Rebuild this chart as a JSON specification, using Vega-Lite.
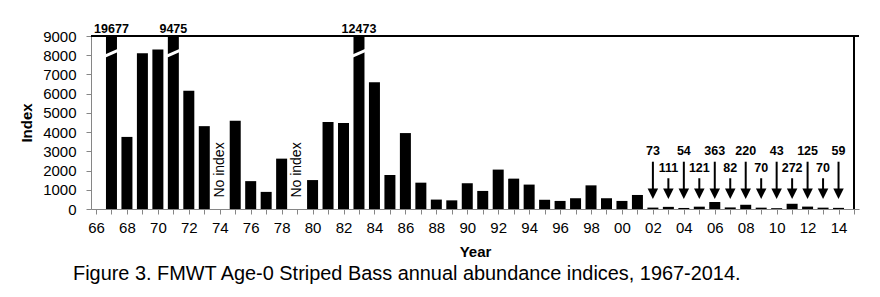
{
  "$schema": "https://vega.github.io/schema/vega-lite/v6.json",
  "autosize": {"type": "none"},
  "width": 768,
  "height": 173,
  "padding": {"left": 91, "top": 36, "right": 21, "bottom": 88},
  "background": "white",
  "title": {
    "text": "Figure 3. FMWT Age-0 Striped Bass annual abundance indices, 1967-2014.",
    "orient": "bottom",
    "anchor": "start",
    "frame": "group",
    "dx": -18,
    "offset": 5,
    "font": "Liberation Sans",
    "fontSize": 19.9,
    "fontWeight": "normal",
    "color": "black"
  },
  "config": {
    "view": {"stroke": null},
    "font": "Liberation Sans",
    "axis": {
      "domainColor": "#868686",
      "tickColor": "#868686",
      "labelColor": "black",
      "titleColor": "black",
      "labelFont": "Liberation Sans",
      "titleFont": "Liberation Sans",
      "labelFontSize": 15,
      "titleFontSize": 15,
      "titleFontWeight": "bold",
      "grid": false,
      "tickSize": 5,
      "labelOverlap": false,
      "labelFlush": false,
      "labelBound": false
    }
  },
  "datasets": {
    "main": [
      {"year": 1967, "value": 19677},
      {"year": 1968, "value": 3750},
      {"year": 1969, "value": 8100},
      {"year": 1970, "value": 8300},
      {"year": 1971, "value": 9475},
      {"year": 1972, "value": 6150},
      {"year": 1973, "value": 4310},
      {"year": 1975, "value": 4590},
      {"year": 1976, "value": 1450},
      {"year": 1977, "value": 890},
      {"year": 1978, "value": 2620},
      {"year": 1980, "value": 1505},
      {"year": 1981, "value": 4530},
      {"year": 1982, "value": 4470},
      {"year": 1983, "value": 12473},
      {"year": 1984, "value": 6600},
      {"year": 1985, "value": 1770},
      {"year": 1986, "value": 3950},
      {"year": 1987, "value": 1370},
      {"year": 1988, "value": 490},
      {"year": 1989, "value": 450},
      {"year": 1990, "value": 1340},
      {"year": 1991, "value": 940},
      {"year": 1992, "value": 2050},
      {"year": 1993, "value": 1580},
      {"year": 1994, "value": 1270},
      {"year": 1995, "value": 480},
      {"year": 1996, "value": 420},
      {"year": 1997, "value": 560},
      {"year": 1998, "value": 1230},
      {"year": 1999, "value": 560},
      {"year": 2000, "value": 420},
      {"year": 2001, "value": 730},
      {"year": 2002, "value": 73},
      {"year": 2003, "value": 111},
      {"year": 2004, "value": 54},
      {"year": 2005, "value": 121},
      {"year": 2006, "value": 363},
      {"year": 2007, "value": 82},
      {"year": 2008, "value": 220},
      {"year": 2009, "value": 70},
      {"year": 2010, "value": 43},
      {"year": 2011, "value": 272},
      {"year": 2012, "value": 125},
      {"year": 2013, "value": 70},
      {"year": 2014, "value": 59}
    ],
    "noindex": [
      {"year": 1974, "note": "No index"},
      {"year": 1979, "note": "No index"}
    ],
    "frame": [{"id": 1}]
  },
  "data": {"name": "main"},
  "layer": [
    {
      "mark": {"type": "bar", "size": 11, "color": "black", "clip": true},
      "encoding": {
        "x": {
          "field": "year",
          "type": "quantitative",
          "scale": {"domain": [1966, 2015], "nice": false, "zero": false},
          "axis": {
            "title": "Year",
            "values": [1966,1967,1968,1969,1970,1971,1972,1973,1974,1975,1976,1977,1978,1979,1980,1981,1982,1983,1984,1985,1986,1987,1988,1989,1990,1991,1992,1993,1994,1995,1996,1997,1998,1999,2000,2001,2002,2003,2004,2005,2006,2007,2008,2009,2010,2011,2012,2013,2014,2015],
            "labelExpr": "(datum.value % 2 == 0 && datum.value < 2015) ? substring(toString(datum.value), 2, 4) : ''",
            "labelOverlap": false,
            "labelPadding": 6,
            "titlePadding": 9
          }
        },
        "y": {
          "field": "value",
          "type": "quantitative",
          "scale": {"domain": [0, 9000], "nice": false, "zero": true},
          "axis": {
            "title": "Index",
            "values": [0,1000,2000,3000,4000,5000,6000,7000,8000,9000],
            "format": "d",
            "labelPadding": 10,
            "labelOverlap": false,
            "titlePadding": 8
          }
        }
      }
    },
    {
      "transform": [{"filter": "datum.value > 9000"}],
      "mark": {"type": "rule", "color": "white", "strokeWidth": 3, "xOffset": -6.5, "x2Offset": 6.5},
      "encoding": {
        "x": {"field": "year", "type": "quantitative", "axis": {"title": "Year", "values": [1966,1967,1968,1969,1970,1971,1972,1973,1974,1975,1976,1977,1978,1979,1980,1981,1982,1983,1984,1985,1986,1987,1988,1989,1990,1991,1992,1993,1994,1995,1996,1997,1998,1999,2000,2001,2002,2003,2004,2005,2006,2007,2008,2009,2010,2011,2012,2013,2014,2015], "labelExpr": "(datum.value % 2 == 0 && datum.value < 2015) ? substring(toString(datum.value), 2, 4) : ''", "labelOverlap": false, "labelPadding": 6, "titlePadding": 9}},
        "x2": {"field": "year"},
        "y": {"datum": 7950, "axis": {"title": "Index", "values": [0,1000,2000,3000,4000,5000,6000,7000,8000,9000], "format": "d", "labelPadding": 10, "labelOverlap": false, "titlePadding": 8}},
        "y2": {"datum": 8250}
      }
    },
    {
      "transform": [{"filter": "datum.value > 9000"}],
      "mark": {"type": "text", "fontSize": 12.5, "fontWeight": "bold", "baseline": "alphabetic", "dy": -3, "color": "black"},
      "encoding": {
        "x": {"field": "year", "type": "quantitative", "axis": {"title": "Year", "values": [1966,1967,1968,1969,1970,1971,1972,1973,1974,1975,1976,1977,1978,1979,1980,1981,1982,1983,1984,1985,1986,1987,1988,1989,1990,1991,1992,1993,1994,1995,1996,1997,1998,1999,2000,2001,2002,2003,2004,2005,2006,2007,2008,2009,2010,2011,2012,2013,2014,2015], "labelExpr": "(datum.value % 2 == 0 && datum.value < 2015) ? substring(toString(datum.value), 2, 4) : ''", "labelOverlap": false, "labelPadding": 6, "titlePadding": 9}},
        "y": {"datum": 9000, "axis": {"title": "Index", "values": [0,1000,2000,3000,4000,5000,6000,7000,8000,9000], "format": "d", "labelPadding": 10, "labelOverlap": false, "titlePadding": 8}},
        "text": {"field": "value", "type": "quantitative", "format": "d"}
      }
    },
    {
      "data": {"name": "noindex"},
      "mark": {"type": "text", "fontSize": 14, "angle": 270, "align": "center", "baseline": "middle", "color": "black"},
      "encoding": {
        "x": {"field": "year", "type": "quantitative", "axis": {"title": "Year", "values": [1966,1967,1968,1969,1970,1971,1972,1973,1974,1975,1976,1977,1978,1979,1980,1981,1982,1983,1984,1985,1986,1987,1988,1989,1990,1991,1992,1993,1994,1995,1996,1997,1998,1999,2000,2001,2002,2003,2004,2005,2006,2007,2008,2009,2010,2011,2012,2013,2014,2015], "labelExpr": "(datum.value % 2 == 0 && datum.value < 2015) ? substring(toString(datum.value), 2, 4) : ''", "labelOverlap": false, "labelPadding": 6, "titlePadding": 9}},
        "y": {"datum": 2030, "axis": {"title": "Index", "values": [0,1000,2000,3000,4000,5000,6000,7000,8000,9000], "format": "d", "labelPadding": 10, "labelOverlap": false, "titlePadding": 8}},
        "text": {"field": "note"}
      }
    },
    {
      "transform": [{"filter": "datum.year >= 2002 && datum.year % 2 == 0"}],
      "mark": {"type": "rule", "color": "black", "strokeWidth": 2},
      "encoding": {
        "x": {"field": "year", "type": "quantitative", "axis": {"title": "Year", "values": [1966,1967,1968,1969,1970,1971,1972,1973,1974,1975,1976,1977,1978,1979,1980,1981,1982,1983,1984,1985,1986,1987,1988,1989,1990,1991,1992,1993,1994,1995,1996,1997,1998,1999,2000,2001,2002,2003,2004,2005,2006,2007,2008,2009,2010,2011,2012,2013,2014,2015], "labelExpr": "(datum.value % 2 == 0 && datum.value < 2015) ? substring(toString(datum.value), 2, 4) : ''", "labelOverlap": false, "labelPadding": 6, "titlePadding": 9}},
        "y": {"datum": 2460, "axis": {"title": "Index", "values": [0,1000,2000,3000,4000,5000,6000,7000,8000,9000], "format": "d", "labelPadding": 10, "labelOverlap": false, "titlePadding": 8}},
        "y2": {"datum": 1000}
      }
    },
    {
      "transform": [{"filter": "datum.year >= 2002 && datum.year % 2 == 1"}],
      "mark": {"type": "rule", "color": "black", "strokeWidth": 2},
      "encoding": {
        "x": {"field": "year", "type": "quantitative", "axis": {"title": "Year", "values": [1966,1967,1968,1969,1970,1971,1972,1973,1974,1975,1976,1977,1978,1979,1980,1981,1982,1983,1984,1985,1986,1987,1988,1989,1990,1991,1992,1993,1994,1995,1996,1997,1998,1999,2000,2001,2002,2003,2004,2005,2006,2007,2008,2009,2010,2011,2012,2013,2014,2015], "labelExpr": "(datum.value % 2 == 0 && datum.value < 2015) ? substring(toString(datum.value), 2, 4) : ''", "labelOverlap": false, "labelPadding": 6, "titlePadding": 9}},
        "y": {"datum": 1600, "axis": {"title": "Index", "values": [0,1000,2000,3000,4000,5000,6000,7000,8000,9000], "format": "d", "labelPadding": 10, "labelOverlap": false, "titlePadding": 8}},
        "y2": {"datum": 1000}
      }
    },
    {
      "transform": [{"filter": "datum.year >= 2002"}],
      "mark": {"type": "point", "shape": "M-1,-1L1,-1L0,1Z", "filled": true, "color": "black", "size": 110, "opacity": 1},
      "encoding": {
        "x": {"field": "year", "type": "quantitative", "axis": {"title": "Year", "values": [1966,1967,1968,1969,1970,1971,1972,1973,1974,1975,1976,1977,1978,1979,1980,1981,1982,1983,1984,1985,1986,1987,1988,1989,1990,1991,1992,1993,1994,1995,1996,1997,1998,1999,2000,2001,2002,2003,2004,2005,2006,2007,2008,2009,2010,2011,2012,2013,2014,2015], "labelExpr": "(datum.value % 2 == 0 && datum.value < 2015) ? substring(toString(datum.value), 2, 4) : ''", "labelOverlap": false, "labelPadding": 6, "titlePadding": 9}},
        "y": {"datum": 793, "axis": {"title": "Index", "values": [0,1000,2000,3000,4000,5000,6000,7000,8000,9000], "format": "d", "labelPadding": 10, "labelOverlap": false, "titlePadding": 8}}
      }
    },
    {
      "transform": [{"filter": "datum.year >= 2002 && datum.year % 2 == 0"}],
      "mark": {"type": "text", "fontSize": 12.5, "fontWeight": "bold", "baseline": "middle", "color": "black"},
      "encoding": {
        "x": {"field": "year", "type": "quantitative", "axis": {"title": "Year", "values": [1966,1967,1968,1969,1970,1971,1972,1973,1974,1975,1976,1977,1978,1979,1980,1981,1982,1983,1984,1985,1986,1987,1988,1989,1990,1991,1992,1993,1994,1995,1996,1997,1998,1999,2000,2001,2002,2003,2004,2005,2006,2007,2008,2009,2010,2011,2012,2013,2014,2015], "labelExpr": "(datum.value % 2 == 0 && datum.value < 2015) ? substring(toString(datum.value), 2, 4) : ''", "labelOverlap": false, "labelPadding": 6, "titlePadding": 9}},
        "y": {"datum": 3040, "axis": {"title": "Index", "values": [0,1000,2000,3000,4000,5000,6000,7000,8000,9000], "format": "d", "labelPadding": 10, "labelOverlap": false, "titlePadding": 8}},
        "text": {"field": "value", "type": "quantitative", "format": "d"}
      }
    },
    {
      "transform": [{"filter": "datum.year >= 2002 && datum.year % 2 == 1"}],
      "mark": {"type": "text", "fontSize": 12.5, "fontWeight": "bold", "baseline": "middle", "color": "black"},
      "encoding": {
        "x": {"field": "year", "type": "quantitative", "axis": {"title": "Year", "values": [1966,1967,1968,1969,1970,1971,1972,1973,1974,1975,1976,1977,1978,1979,1980,1981,1982,1983,1984,1985,1986,1987,1988,1989,1990,1991,1992,1993,1994,1995,1996,1997,1998,1999,2000,2001,2002,2003,2004,2005,2006,2007,2008,2009,2010,2011,2012,2013,2014,2015], "labelExpr": "(datum.value % 2 == 0 && datum.value < 2015) ? substring(toString(datum.value), 2, 4) : ''", "labelOverlap": false, "labelPadding": 6, "titlePadding": 9}},
        "y": {"datum": 2120, "axis": {"title": "Index", "values": [0,1000,2000,3000,4000,5000,6000,7000,8000,9000], "format": "d", "labelPadding": 10, "labelOverlap": false, "titlePadding": 8}},
        "text": {"field": "value", "type": "quantitative", "format": "d"}
      }
    },
    {
      "data": {"name": "frame"},
      "mark": {"type": "rule", "color": "black", "strokeWidth": 2},
      "encoding": {"y": {"datum": 9000, "axis": {"title": "Index", "values": [0,1000,2000,3000,4000,5000,6000,7000,8000,9000], "format": "d", "labelPadding": 10, "labelOverlap": false, "titlePadding": 8}}}
    },
    {
      "data": {"name": "frame"},
      "mark": {"type": "rule", "color": "black", "strokeWidth": 2},
      "encoding": {"x": {"datum": 2015, "axis": {"title": "Year", "values": [1966,1967,1968,1969,1970,1971,1972,1973,1974,1975,1976,1977,1978,1979,1980,1981,1982,1983,1984,1985,1986,1987,1988,1989,1990,1991,1992,1993,1994,1995,1996,1997,1998,1999,2000,2001,2002,2003,2004,2005,2006,2007,2008,2009,2010,2011,2012,2013,2014,2015], "labelExpr": "(datum.value % 2 == 0 && datum.value < 2015) ? substring(toString(datum.value), 2, 4) : ''", "labelOverlap": false, "labelPadding": 6, "titlePadding": 9}}}
    }
  ]
}
